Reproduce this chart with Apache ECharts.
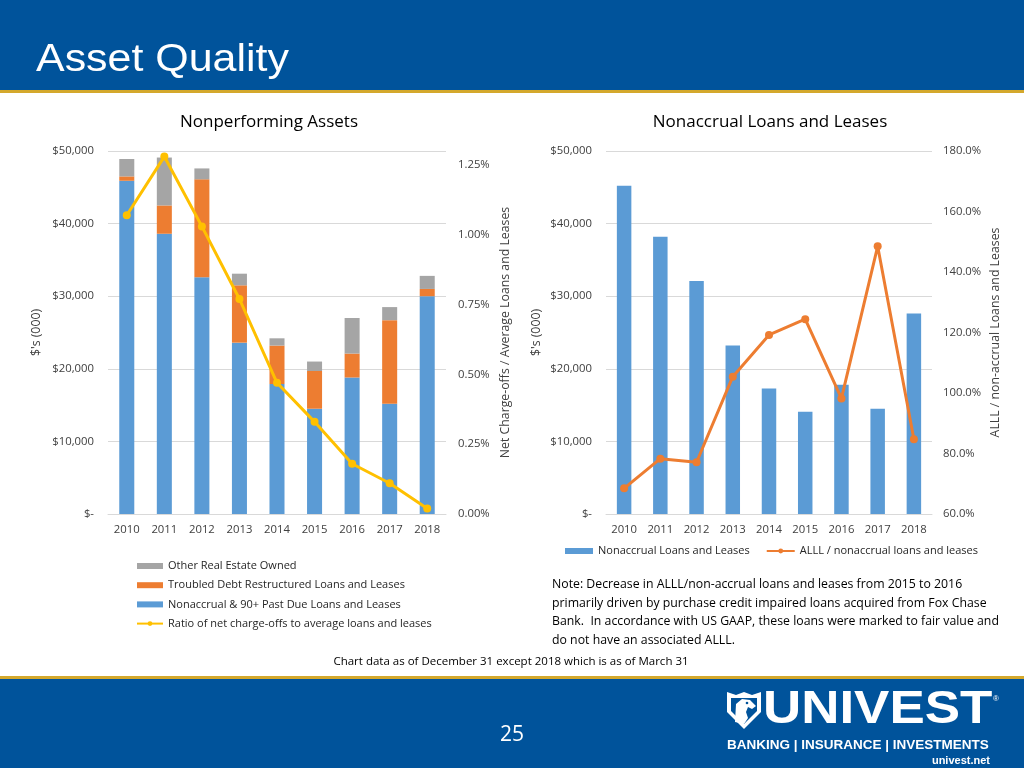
<!DOCTYPE html>
<html>
<head>
<meta charset="utf-8">
<script src="https://cdn.jsdelivr.net/npm/echarts@6/dist/echarts.min.js"></script>
<style>
html,body{margin:0;padding:0;background:#fff;}
#main{width:1024px;height:768px;}
</style>
</head>
<body>
<div id="main"></div>
<script>
// ---- data ----
const years = ['2010','2011','2012','2013','2014','2015','2016','2017','2018'];
const nonaccrual90 = [45900, 38600, 32600, 23600, 17900, 14500, 18800, 15200, 30000];
const tdr = [600, 3900, 13500, 7900, 5300, 5200, 3300, 11500, 1000];
const oreo = [2400, 6600, 1500, 1600, 1000, 1300, 4900, 1800, 1800];
const ncoRatio = [1.07, 1.28, 1.03, 0.77, 0.47, 0.33, 0.18, 0.11, 0.02];
const nonaccrualLoans = [45200, 38200, 32100, 23200, 17300, 14100, 17800, 14500, 27600];
const alllRatio = [68.5, 78.3, 77.1, 105.4, 119.2, 124.4, 98.2, 148.5, 84.7];

const noteLines = [
  'Note: Decrease in ALLL/non-accrual loans and leases from 2015 to 2016',
  'primarily driven by purchase credit impaired loans acquired from Fox Chase',
  'Bank.  In accordance with US GAAP, these loans were marked to fair value and',
  'do not have an associated ALLL.'
];

const F = '"Open Sans", sans-serif';
const TXT = '#404040';
const GRID = '#d9d9d9';

function dollar(v){ return v === 0 ? '$-' : '$' + v.toLocaleString('en-US'); }

const chart = echarts.init(document.getElementById('main'), null, {renderer:'canvas'});

const option = {
  backgroundColor: '#ffffff',
  animation: false,
  textStyle: {fontFamily: F},
  grid: [
    {left:108, right:578, top:151, bottom:254},
    {left:606, right:92, top:151, bottom:254}
  ],
  xAxis: [
    {type:'category', gridIndex:0, data:years,
     axisLine:{show:true, lineStyle:{color:GRID}}, axisTick:{show:false},
     axisLabel:{color:TXT, fontSize:11.3, fontFamily:F, margin:10}},
    {type:'category', gridIndex:1, data:years,
     axisLine:{show:true, lineStyle:{color:GRID}}, axisTick:{show:false},
     axisLabel:{color:TXT, fontSize:11.3, fontFamily:F, margin:10}}
  ],
  yAxis: [
    {type:'value', gridIndex:0, min:0, max:50000, interval:10000,
     axisLine:{show:false}, axisTick:{show:false},
     splitLine:{lineStyle:{color:GRID}},
     axisLabel:{color:TXT, fontSize:11.3, fontFamily:F, margin:14, formatter:dollar},
     name:"$'s (000)", nameLocation:'middle', nameRotate:90, nameGap:66,
     nameTextStyle:{color:TXT, fontSize:12.3, fontFamily:F}},
    {type:'value', gridIndex:0, position:'right', min:0, max:1.3, interval:0.25,
     axisLine:{show:false}, axisTick:{show:false}, splitLine:{show:false},
     axisLabel:{color:TXT, fontSize:11.3, fontFamily:F, margin:12, showMaxLabel:false,
       formatter: v => v.toFixed(2) + '%'},
     name:'Net Charge-offs / Average Loans and Leases', nameLocation:'middle', nameRotate:90, nameGap:53,
     nameTextStyle:{color:TXT, fontSize:12.3, fontFamily:F}},
    {type:'value', gridIndex:1, min:0, max:50000, interval:10000,
     axisLine:{show:false}, axisTick:{show:false},
     splitLine:{lineStyle:{color:GRID}},
     axisLabel:{color:TXT, fontSize:11.3, fontFamily:F, margin:14, formatter:dollar},
     name:"$'s (000)", nameLocation:'middle', nameRotate:90, nameGap:64,
     nameTextStyle:{color:TXT, fontSize:12.3, fontFamily:F}},
    {type:'value', gridIndex:1, position:'right', min:60, max:180, interval:20,
     axisLine:{show:false}, axisTick:{show:false}, splitLine:{show:false},
     axisLabel:{color:TXT, fontSize:11.3, fontFamily:F, margin:11,
       formatter: v => v.toFixed(1) + '%'},
     name:'ALLL / non-accrual Loans and Leases', nameLocation:'middle', nameRotate:90, nameGap:57,
     nameTextStyle:{color:TXT, fontSize:12.3, fontFamily:F}}
  ],
  legend: [
    {orient:'vertical', left:131, top:554, itemWidth:26, itemHeight:6, itemGap:5.2,
     textStyle:{color:'#262626', fontSize:11, fontFamily:F, lineHeight:14},
     data:[
       {name:'Other Real Estate Owned', icon:'rect'},
       {name:'Troubled Debt Restructured Loans and Leases', icon:'rect'},
       {name:'Nonaccrual & 90+ Past Due Loans and Leases', icon:'rect'},
       {name:'Ratio of net charge-offs to average loans and leases'}
     ]},
    {orient:'horizontal', left:560, top:539, itemWidth:28, itemHeight:6, itemGap:16,
     textStyle:{color:'#262626', fontSize:11, fontFamily:F, lineHeight:14},
     data:[
       {name:'Nonaccrual Loans and Leases', icon:'rect'},
       {name:'ALLL / nonaccrual loans and leases'}
     ]}
  ],
  series: [
    {name:'Nonaccrual & 90+ Past Due Loans and Leases', type:'bar', stack:'np', xAxisIndex:0, yAxisIndex:0,
     barWidth:'40%', itemStyle:{color:'#5B9BD5'}, data:nonaccrual90},
    {name:'Troubled Debt Restructured Loans and Leases', type:'bar', stack:'np', xAxisIndex:0, yAxisIndex:0,
     barWidth:'40%', itemStyle:{color:'#ED7D31'}, data:tdr},
    {name:'Other Real Estate Owned', type:'bar', stack:'np', xAxisIndex:0, yAxisIndex:0,
     barWidth:'40%', itemStyle:{color:'#A5A5A5'}, data:oreo},
    {name:'Ratio of net charge-offs to average loans and leases', type:'line', xAxisIndex:0, yAxisIndex:1,
     symbol:'circle', symbolSize:8, lineStyle:{color:'#FFC000', width:3}, itemStyle:{color:'#FFC000'},
     data:ncoRatio, z:5},
    {name:'Nonaccrual Loans and Leases', type:'bar', xAxisIndex:1, yAxisIndex:2,
     barWidth:'40%', itemStyle:{color:'#5B9BD5'}, data:nonaccrualLoans},
    {name:'ALLL / nonaccrual loans and leases', type:'line', xAxisIndex:1, yAxisIndex:3,
     symbol:'circle', symbolSize:8, lineStyle:{color:'#ED7D31', width:3}, itemStyle:{color:'#ED7D31'},
     data:alllRatio, z:5}
  ],
  graphic: [
    {type:'rect', shape:{x:0,y:0,width:1024,height:90}, style:{fill:'#00539B'}, z:-10},
    {type:'rect', shape:{x:0,y:90,width:1024,height:3}, style:{fill:'#D4A82C'}, z:-10},
    {type:'text', x:36, y:61, scaleX:1.13,
     style:{text:'Asset Quality', fill:'#ffffff', fontSize:38, fontFamily:'"Liberation Sans", Arial, sans-serif',
       align:'left', verticalAlign:'middle', textAlign:'left', textVerticalAlign:'middle'}},
    {type:'text', x:269, y:122,
     style:{text:'Nonperforming Assets', fill:'#000000', fontSize:17, fontFamily:F,
       align:'center', verticalAlign:'middle', textAlign:'center', textVerticalAlign:'middle'}},
    {type:'text', x:770, y:122,
     style:{text:'Nonaccrual Loans and Leases', fill:'#000000', fontSize:17, fontFamily:F,
       align:'center', verticalAlign:'middle', textAlign:'center', textVerticalAlign:'middle'}},
    {type:'text', x:552, y:575,
     style:{text:noteLines.join('\n'), fill:'#000000', fontSize:12.3, lineHeight:18.7, fontFamily:F,
       align:'left', verticalAlign:'top', textAlign:'left', textVerticalAlign:'top'}},
    {type:'text', x:511, y:662,
     style:{text:'Chart data as of December 31 except 2018 which is as of March 31', fill:'#000000', fontSize:11.5, fontFamily:F,
       align:'center', verticalAlign:'middle', textAlign:'center', textVerticalAlign:'middle'}},
    {type:'rect', shape:{x:0,y:676,width:1024,height:3}, style:{fill:'#D4A82C'}, z:-10},
    {type:'rect', shape:{x:0,y:679,width:1024,height:89}, style:{fill:'#00539B'}, z:-10},
    {type:'text', x:512, y:735,
     style:{text:'25', fill:'#ffffff', fontSize:21, fontFamily:F,
       align:'center', verticalAlign:'middle', textAlign:'center', textVerticalAlign:'middle'}},
    // logo shield
    {type:'polygon', shape:{points:[[727,692],[736,695],[744,692],[752,695],[761,692],[761,712],[744,729],[727,712]]},
     style:{fill:'#ffffff'}},
    {type:'polygon', shape:{points:[[731,698],[757,698],[757,711],[744,724],[731,711]]},
     style:{fill:'#00539B'}},
    {type:'polygon', shape:{points:[[735,722],[736,704],[742,699],[750,700],[756,706],[752,709],[748,707],[746,712],[748,718],[744,724]]},
     style:{fill:'#ffffff'}},
    {type:'circle', shape:{cx:747,cy:703,r:1.3}, style:{fill:'#00539B'}},
    {type:'text', x:763, y:710, scaleX:1.15,
     style:{text:'UNIVEST', fill:'#ffffff', fontSize:46, fontWeight:'bold', fontFamily:'"Liberation Sans", Arial, sans-serif',
       align:'left', verticalAlign:'middle', textAlign:'left', textVerticalAlign:'middle'}},
    {type:'text', x:996, y:699,
     style:{text:'®', fill:'#ffffff', fontSize:8, fontFamily:'"Liberation Sans", Arial, sans-serif',
       align:'center', verticalAlign:'middle', textAlign:'center', textVerticalAlign:'middle'}},
    {type:'text', x:727, y:745, scaleX:1.0,
     style:{text:'BANKING | INSURANCE | INVESTMENTS', fill:'#ffffff', fontSize:13.5, fontWeight:'bold', fontFamily:'"Liberation Sans", Arial, sans-serif',
       align:'left', verticalAlign:'middle', textAlign:'left', textVerticalAlign:'middle'}},
    {type:'text', x:990, y:761,
     style:{text:'univest.net', fill:'#ffffff', fontSize:11, fontWeight:'bold', fontFamily:'"Liberation Sans", Arial, sans-serif',
       align:'right', verticalAlign:'middle', textAlign:'right', textVerticalAlign:'middle'}}
  ]
};
chart.setOption(option);
</script>
</body>
</html>
